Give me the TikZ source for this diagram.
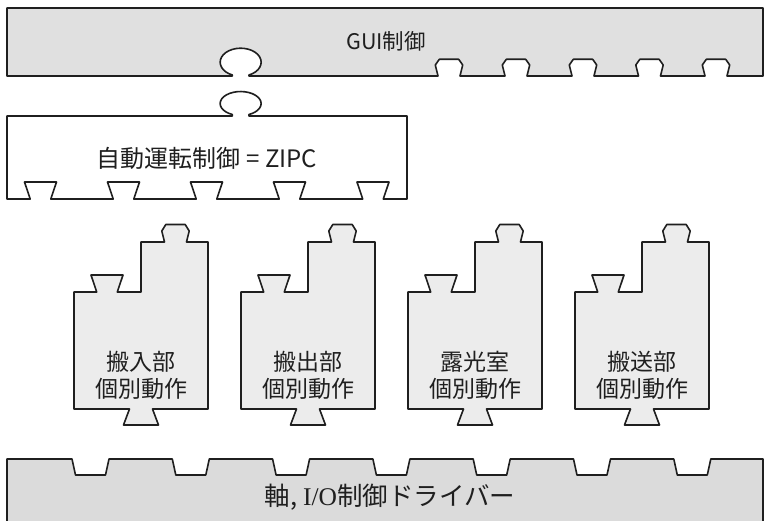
\documentclass[tikz,border=0pt]{standalone}
\usepackage{fontspec}
\setmainfont{Noto Sans CJK JP}
\newfontfamily\serifI{Liberation Serif}
\definecolor{topgray}{gray}{0.88}
\definecolor{blockgray}{gray}{0.925}
\definecolor{botgray}{gray}{0.86}
\definecolor{edge}{gray}{0.12}
\begin{document}
\begin{tikzpicture}[x=1pt,y=-1pt,
  piece/.style={draw=edge, line width=1.6pt, line join=round},
  label/.style={inner sep=0pt, align=center, text=black!88}]
\useasboundingbox (0,0) rectangle (766,521);
\fill[white] (0,0) rectangle (766,521);

% GUI bar
\path[piece, fill=topgray] (7,8) -- (763,8) -- (763,76)
  \foreach \c in {716,649.5,583,516,449} {
    -- (\c+11,76) -- (\c+13.7,65) -- (\c+9.7,59.3) -- (\c-9.7,59.3) -- (\c-13.7,65) -- (\c-11,76) }
  -- (249,76) -- (249,75) arc[start angle=66, end angle=-246, x radius=20.5, y radius=14]
  -- (232.3,76) -- (7,76) -- cycle;
\node[label, font=\fontsize{21.5}{25}\selectfont] (gui) at (386,41) {GUI制御};

% ZIPC block
\path[piece, fill=white] (7,116) -- (232.3,116) -- (232.3,114.5)
  arc[start angle=114, end angle=426, x radius=20.5, y radius=12]
  -- (249,116) -- (407,116) -- (407,199)
  \foreach \c in {373,289.5,206.5,123.5,40.5} {
    -- (\c+10.3,199) -- (\c+16,182) -- (\c-16,182) -- (\c-10.3,199) }
  -- (7,199) -- cycle;
\node[label, font=\fontsize{24}{28}\selectfont] (zipc) at (207,158) {自動運転制御 = ZIPC};

% individual blocks
\foreach \L/\t [count=\i] in {74/搬入部, 241/搬出部, 408/露光室, 575/搬送部} {
  \path[piece, fill=blockgray] (\L,292)
    -- (\L+22.7,292) -- (\L+17,275) -- (\L+49,275) -- (\L+43.3,292)
    -- (\L+67,292) -- (\L+67,242)
    -- (\L+90.5,242) -- (\L+87.8,231) -- (\L+91.8,224.5) -- (\L+111.2,224.5) -- (\L+115.2,231) -- (\L+112.5,242)
    -- (\L+134,242) -- (\L+134,409)
    -- (\L+78.5,409) -- (\L+84.5,425) -- (\L+49.5,425) -- (\L+55.5,409)
    -- (\L,409) -- cycle;
  \node[label, font=\fontsize{23}{27}\selectfont] (b\i) at (\L+67,375) {\t\\個別動作};
}

% driver bar
\path[piece, fill=botgray] (7,540) -- (7,459)
  \foreach \c in {90.5,190.8,291.1,391.4,491.7,592,692.3} {
    -- (\c-18.5,459) -- (\c-15,475) -- (\c+15,475) -- (\c+18.5,459) }
  -- (763,459) -- (763,540);
\node[label, font=\fontsize{25.5}{30}\selectfont] (drv) at (390,497) {軸, {\serifI I/O}制御ドライバー};
\end{tikzpicture}
\end{document}
